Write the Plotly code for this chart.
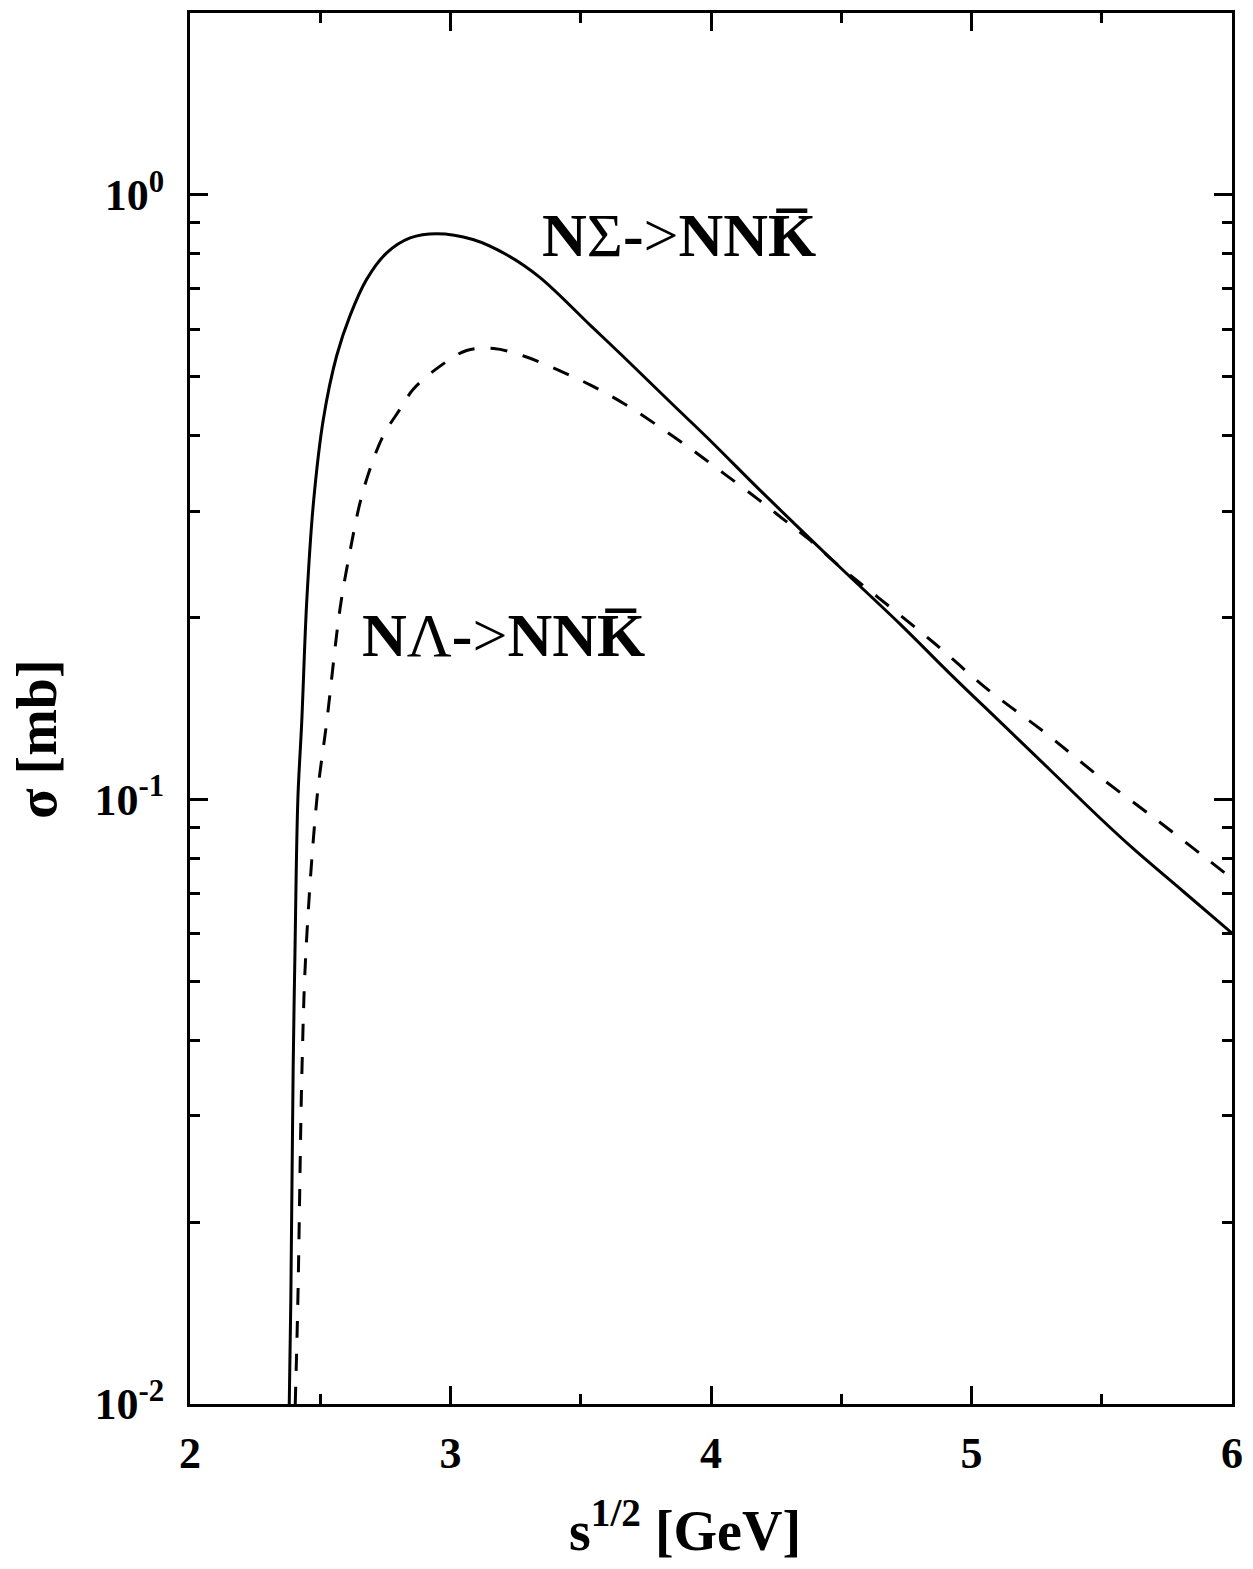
import plotly.graph_objects as go

# Cross sections sigma(sqrt(s)) in mb
sqrt_s_sigma = [2.381, 2.387, 2.396, 2.403, 2.414, 2.429, 2.448, 2.474, 2.512, 2.563,
                2.614, 2.678, 2.755, 2.845, 2.947, 3.086, 3.219, 3.344, 3.538, 3.662,
                3.858, 3.985, 4.181, 4.346, 4.5, 4.726, 4.917, 5.109, 5.301, 5.493,
                5.62, 5.812, 6.0]
sigma_NSigma = [0.010, 0.0148, 0.036, 0.056, 0.10, 0.1345, 0.212, 0.310, 0.426, 0.542,
                0.631, 0.725, 0.802, 0.849, 0.863, 0.844, 0.795, 0.730, 0.608, 0.541,
                0.448, 0.397, 0.327, 0.279, 0.241, 0.195, 0.1615, 0.1345, 0.112, 0.0932,
                0.083, 0.0705, 0.0601]

sqrt_s_lambda = [2.404, 2.414, 2.43, 2.445, 2.487, 2.525, 2.576, 2.614, 2.653, 2.691,
                 2.742, 2.806, 2.857, 2.96, 3.062, 3.166, 3.278, 3.41, 3.536, 3.665,
                 3.793, 3.923, 4.046, 4.18, 4.277, 4.373, 4.508, 4.641, 4.853,
                 5.063, 5.282, 5.48, 5.704, 5.906, 6.0]
sigma_NLambda = [0.010, 0.0148, 0.036, 0.056, 0.100, 0.1345, 0.207, 0.257, 0.310, 0.352,
                 0.400, 0.442, 0.477, 0.521, 0.553, 0.557, 0.542, 0.514, 0.485, 0.452,
                 0.416, 0.380, 0.347, 0.314, 0.291, 0.270, 0.240, 0.216, 0.182,
                 0.152, 0.129, 0.110, 0.093, 0.0796, 0.074]

y_tickvals = [0.01, 0.1, 1]
y_ticktext = ["10<sup>-2</sup>", "10<sup>-1</sup>", "10<sup>0</sup>"]
y_minor = [0.02, 0.03, 0.04, 0.05, 0.06, 0.07, 0.08, 0.09,
           0.2, 0.3, 0.4, 0.5, 0.6, 0.7, 0.8, 0.9]
x_tickvals = [2, 3, 4, 5, 6]

FONT = "Liberation Serif"

fig = go.Figure()
fig.add_trace(go.Scatter(x=sqrt_s_sigma, y=sigma_NSigma, mode="lines",
                         line=dict(color="black", width=3, shape="spline", smoothing=1.0),
                         showlegend=False))
fig.add_trace(go.Scatter(x=sqrt_s_lambda, y=sigma_NLambda, mode="lines",
                         line=dict(color="black", width=3, dash="17px,16px",
                                   shape="spline", smoothing=1.0),
                         showlegend=False))

axis_common = dict(showline=True, linecolor="black", linewidth=3, mirror="ticks",
                   ticks="inside", tickcolor="black", tickwidth=3, ticklen=18,
                   showgrid=False, zeroline=False,
                   tickfont=dict(family=FONT, size=44, color="black", weight="bold"))

fig.update_xaxes(range=[2, 6], tickvals=x_tickvals, ticklabelstandoff=8,
                 minor=dict(dtick=0.5, tick0=2, ticks="inside", ticklen=10,
                            tickwidth=3, tickcolor="black", showgrid=False),
                 **axis_common)
fig.update_yaxes(type="log", range=[-2, 0.301], tickvals=y_tickvals, ticktext=y_ticktext,
                 ticklabelstandoff=14,
                 minor=dict(tickvals=y_minor, ticks="inside", ticklen=10,
                            tickwidth=3, tickcolor="black", showgrid=False),
                 **axis_common)

# Reaction labels
label_font = dict(family=FONT, size=62, color="black")
fig.add_annotation(x=3.344, y=-0.066, xref="x", yref="y", xanchor="left", yanchor="middle",
                   showarrow=False, font=label_font,
                   text="<b>N</b>Σ<b>-</b>&gt;<b>NNK\u0305</b>")
fig.add_annotation(x=2.653, y=-0.728, xref="x", yref="y", xanchor="left", yanchor="middle",
                   showarrow=False, font=label_font,
                   text="<b>N</b>Λ<b>-</b>&gt;<b>NNK\u0305</b>")

# Axis titles
fig.add_annotation(x=0.475, y=-0.088, xref="paper", yref="paper", xanchor="center",
                   yanchor="middle", showarrow=False,
                   font=dict(family=FONT, size=56, color="black", weight="bold"),
                   text="s<sup>1/2</sup> [GeV]")
fig.add_annotation(x=-0.147, y=0.478, xref="paper", yref="paper", xanchor="center",
                   yanchor="middle", showarrow=False, textangle=-90,
                   font=dict(family=FONT, size=56, color="black", weight="bold"),
                   text="σ [mb]")

fig.update_layout(width=1253, height=1569,
                  margin=dict(l=190, r=21, t=10, b=165),
                  plot_bgcolor="white", paper_bgcolor="white")

fig.write_html("out.html")
